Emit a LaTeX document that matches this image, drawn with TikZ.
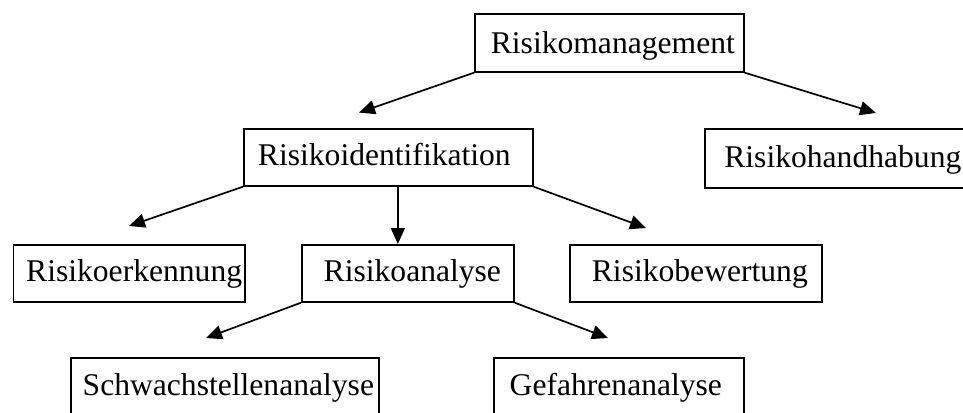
\documentclass[tikz,border=0pt]{standalone}
\usepackage{fontspec}
\setmainfont{Liberation Serif}
\usetikzlibrary{arrows.meta}
\begin{document}
\begin{tikzpicture}[x=1pt,y=-1pt,
  box/.style={draw, line width=1.7pt, rectangle, inner sep=0pt, anchor=north west,
    font=\fontsize{31.6}{38}\selectfont, text depth=5pt},
  arr/.style={line width=1.7pt, -{Triangle[length=16pt,width=14pt]}}]
\useasboundingbox (0,0) rectangle (963,412);
\clip (0,0) rectangle (963,412);
\node[box, minimum width=269pt, minimum height=58pt, text height=27pt] (mgmt) at (474,13) {\hspace*{7pt}Risikomanagement};
\node[box, minimum width=289pt, minimum height=57pt, text height=22pt] (ident) at (243,128) {Risikoidentifikation\hspace*{8pt}};
\node[box, minimum width=276pt, minimum height=59pt, text height=23.4pt] (handh) at (704,128) {Risikohandhabung};
\node[box, minimum width=231.4pt, minimum height=57pt, text height=22pt] (erk) at (12.6,244) {\hspace*{10pt}Risikoerkennung};
\node[box, minimum width=212pt, minimum height=57pt, text height=22pt] (analyse) at (301,244) {\hspace*{9pt}Risikoanalyse};
\node[box, minimum width=252pt, minimum height=57pt, text height=22pt] (bew) at (569,244) {\hspace*{8pt}Risikobewertung};
\node[box, minimum width=308pt, minimum height=73pt, text height=6.5pt] (schw) at (70,357) {\hspace*{7pt}Schwachstellenanalyse};
\node[box, minimum width=250pt, minimum height=73pt, text height=6.5pt] (gef) at (493,357) {Gefahrenanalyse\hspace*{6pt}};
\coordinate (a1) at (359,112.6);
\coordinate (a2) at (876,113);
\coordinate (b1) at (129,226);
\coordinate (b3) at (646,228);
\coordinate (c1) at (206,338);
\coordinate (c2) at (608,338);
\draw[arr] (mgmt.south west) -- (a1);
\draw[arr] (mgmt.south east) -- (a2);
\draw[arr] (ident.south west) -- (b1);
\draw[arr] ([xshift=9.5pt]ident.south) -- ([xshift=-10pt]analyse.north);
\draw[arr] (ident.south east) -- (b3);
\draw[arr] (analyse.south west) -- (c1);
\draw[arr] (analyse.south east) -- (c2);
\end{tikzpicture}
\end{document}
